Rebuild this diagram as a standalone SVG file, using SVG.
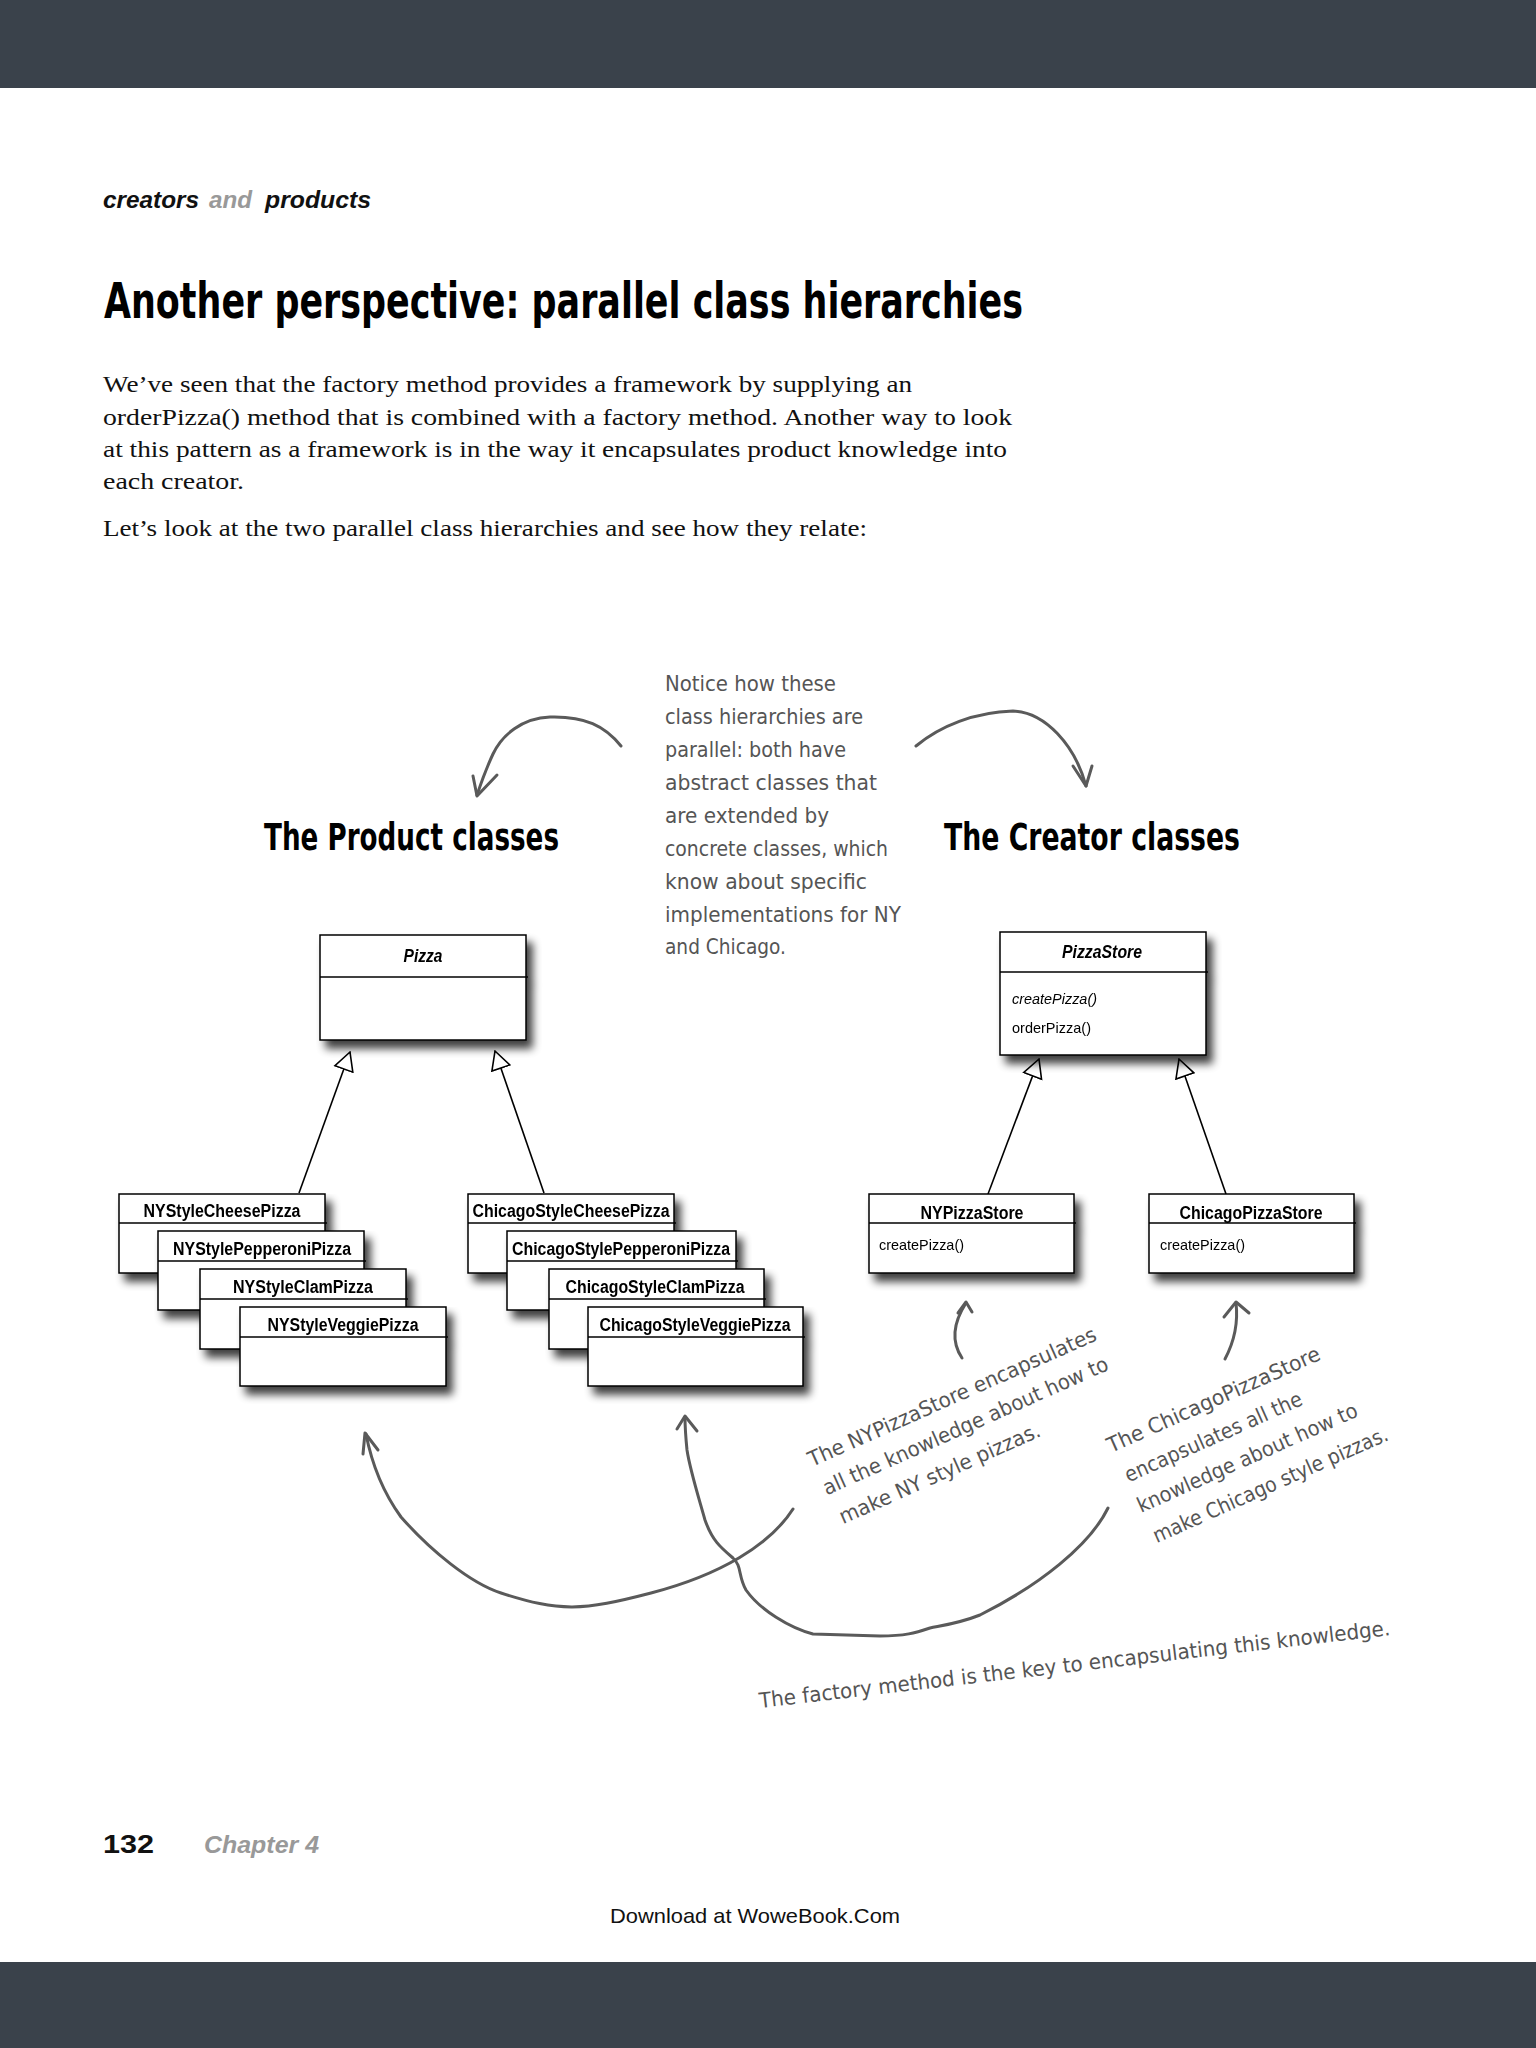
<svg xmlns="http://www.w3.org/2000/svg" width="1536" height="2048" viewBox="0 0 1536 2048">
  <defs>
    <filter id="shadow" x="-10%" y="-10%" width="130%" height="140%">
      <feGaussianBlur in="SourceAlpha" stdDeviation="4"/>
      <feOffset dx="6" dy="8" result="b"/>
      <feComponentTransfer><feFuncA type="linear" slope="0.75"/></feComponentTransfer>
      <feMerge><feMergeNode/><feMergeNode in="SourceGraphic"/></feMerge>
    </filter>
    <marker id="inherit" viewBox="0 0 20 22" refX="19" refY="11" markerWidth="20" markerHeight="22" markerUnits="userSpaceOnUse" orient="auto">
      <path d="M19,11 L1,1.5 L1,20.5 Z" fill="#fff" stroke="#000" stroke-width="1.6"/>
    </marker>
  </defs>
  <style>
    .bar { fill: #3a424b; }
    .box { fill: #fff; stroke: #000; stroke-width: 1.5; }
    .div { stroke: #000; stroke-width: 1.5; }
    .cls { font-family: "Liberation Sans", Arial, sans-serif; font-weight: bold; font-size: 17.5px; text-anchor: middle; fill: #000; }
    .abs { font-style: italic; }
    .op { font-family: "Liberation Sans", Arial, sans-serif; font-size: 15px; fill: #000; }
    .gen { stroke: #000; stroke-width: 1.6; fill: none; marker-end: url(#inherit); }
    .body { font-family: "Liberation Serif", "Times New Roman", serif; font-size: 23px; fill: #111; }
    .head { font-family: "DejaVu Sans", "Liberation Sans", sans-serif; font-weight: bold; fill: #000; }
    .hand { font-family: "DejaVu Sans", "Liberation Sans", sans-serif; font-size: 21px; fill: #555; }
    .sketch { fill: none; stroke: #5a5a5a; stroke-width: 3; stroke-linecap: round; stroke-linejoin: round; }
    .runhead { font-family: "Liberation Sans", Arial, sans-serif; font-size: 23px; font-weight: bold; font-style: italic; }
  </style>

  <rect width="1536" height="2048" fill="#fff"/>
  <rect class="bar" x="0" y="0" width="1536" height="88"/>
  <rect class="bar" x="0" y="1962" width="1536" height="86"/>

  <!-- running head -->
  <text class="runhead" x="103" y="208" fill="#111" textLength="96" lengthAdjust="spacingAndGlyphs">creators</text>
  <text class="runhead" x="209" y="208" fill="#999" textLength="43" lengthAdjust="spacingAndGlyphs">and</text>
  <text class="runhead" x="265" y="208" fill="#111" textLength="106" lengthAdjust="spacingAndGlyphs">products</text>

  <!-- page title and intro -->
  <text class="head" x="104" y="318" font-size="50" textLength="919" lengthAdjust="spacingAndGlyphs">Another perspective: parallel class hierarchies</text>
  <text class="body" x="103" y="392" textLength="809" lengthAdjust="spacingAndGlyphs">We’ve seen that the factory method provides a framework by supplying an</text>
  <text class="body" x="103" y="425" textLength="909" lengthAdjust="spacingAndGlyphs">orderPizza() method that is combined with a factory method.  Another way to look</text>
  <text class="body" x="103" y="457" textLength="904" lengthAdjust="spacingAndGlyphs">at this pattern as a framework is in the way it encapsulates product knowledge into</text>
  <text class="body" x="103" y="489" textLength="141" lengthAdjust="spacingAndGlyphs">each creator.</text>
  <text class="body" x="103" y="536" textLength="764" lengthAdjust="spacingAndGlyphs">Let’s look at the two parallel class hierarchies and see how they relate:</text>

  <!-- section headings -->
  <text class="head" x="264" y="850" font-size="37" textLength="295" lengthAdjust="spacingAndGlyphs">The Product classes</text>
  <text class="head" x="944" y="850" font-size="37" textLength="296" lengthAdjust="spacingAndGlyphs">The Creator classes</text>

  <!-- central note -->
  <g id="note-parallel" class="hand">
    <text x="665" y="691" textLength="171" lengthAdjust="spacingAndGlyphs">Notice how these</text>
    <text x="665" y="724" textLength="198" lengthAdjust="spacingAndGlyphs">class hierarchies are</text>
    <text x="665" y="757" textLength="181" lengthAdjust="spacingAndGlyphs">parallel: both have</text>
    <text x="665" y="790" textLength="212" lengthAdjust="spacingAndGlyphs">abstract classes that</text>
    <text x="665" y="823" textLength="164" lengthAdjust="spacingAndGlyphs">are extended by</text>
    <text x="665" y="856" textLength="223" lengthAdjust="spacingAndGlyphs">concrete classes, which</text>
    <text x="665" y="889" textLength="202" lengthAdjust="spacingAndGlyphs">know about  specific</text>
    <text x="665" y="922" textLength="236" lengthAdjust="spacingAndGlyphs">implementations for NY</text>
    <text x="665" y="954" textLength="121" lengthAdjust="spacingAndGlyphs">and Chicago.</text>
  </g>

  <!-- connectors: UML generalisations and hand-drawn pointers -->
  <g id="connectors">
    <line class="gen" x1="299" y1="1193" x2="350" y2="1052"/>
    <line class="gen" x1="544" y1="1193" x2="495" y2="1051"/>
    <line class="gen" x1="988" y1="1194" x2="1039" y2="1059"/>
    <line class="gen" x1="1226" y1="1194" x2="1179" y2="1059"/>

    <path class="sketch" d="M621,746 C605,726 585,716 550,717 C522,718 502,735 493,754 C486,769 481,783 477,795"/>
    <path class="sketch" d="M473,776 L477,796 L497,775"/>
    <path class="sketch" d="M916,746 C940,726 975,712 1013,711 C1045,712 1075,745 1086,786"/>
    <path class="sketch" d="M1073,766 L1086,786 L1092,766"/>

    <path class="sketch" d="M962,1358 C950,1340 955,1320 966,1303"/>
    <path class="sketch" d="M958,1313 L966,1302 L972,1312"/>
    <path class="sketch" d="M1225,1359 C1235,1340 1238,1320 1236,1303"/>
    <path class="sketch" d="M1224,1317 L1236,1302 L1249,1313"/>

    <path class="sketch" d="M793,1509 C770,1545 720,1575 651,1593 S560,1612 501,1593 C470,1583 430,1550 401,1517 C385,1495 372,1465 366,1434"/>
    <path class="sketch" d="M363,1454 L365,1433 L378,1450"/>
    <path class="sketch" d="M1108,1508 C1090,1545 1040,1585 980,1615 C960,1623 945,1625 930,1628 C915,1633 905,1636 880,1636 L813,1634 C790,1628 760,1610 746,1590 C738,1576 742,1566 733,1558 C720,1547 712,1540 705,1520 C698,1495 690,1470 687,1450 C686,1440 685,1425 685,1417"/>
    <path class="sketch" d="M677,1429 L685,1416 L697,1431"/>
  </g>

  <!-- product hierarchy -->
  <g id="pizza" filter="url(#shadow)">
    <rect class="box" x="320" y="935" width="206" height="105"/>
    <line class="div" x1="320" y1="977" x2="528" y2="977"/>
    <text class="cls abs" x="423" y="962" textLength="39" lengthAdjust="spacingAndGlyphs">Pizza</text>
  </g>

  <g id="ny-cheese" filter="url(#shadow)">
    <rect class="box" x="119" y="1194" width="206" height="79"/>
    <line class="div" x1="119" y1="1223" x2="327" y2="1223"/>
    <text class="cls" x="222" y="1217" textLength="157" lengthAdjust="spacingAndGlyphs">NYStyleCheesePizza</text>
  </g>
  <g id="ny-pepperoni" filter="url(#shadow)">
    <rect class="box" x="158" y="1231" width="206" height="79"/>
    <line class="div" x1="158" y1="1261" x2="366" y2="1261"/>
    <text class="cls" x="262" y="1255" textLength="178" lengthAdjust="spacingAndGlyphs">NYStylePepperoniPizza</text>
  </g>
  <g id="ny-clam" filter="url(#shadow)">
    <rect class="box" x="200" y="1269" width="206" height="80"/>
    <line class="div" x1="200" y1="1299" x2="408" y2="1299"/>
    <text class="cls" x="303" y="1293" textLength="140" lengthAdjust="spacingAndGlyphs">NYStyleClamPizza</text>
  </g>
  <g id="ny-veggie" filter="url(#shadow)">
    <rect class="box" x="240" y="1307" width="206" height="79"/>
    <line class="div" x1="240" y1="1337" x2="448" y2="1337"/>
    <text class="cls" x="343" y="1331" textLength="151" lengthAdjust="spacingAndGlyphs">NYStyleVeggiePizza</text>
  </g>

  <g id="chicago-cheese" filter="url(#shadow)">
    <rect class="box" x="468" y="1194" width="206" height="79"/>
    <line class="div" x1="468" y1="1223" x2="676" y2="1223"/>
    <text class="cls" x="571" y="1217" textLength="197" lengthAdjust="spacingAndGlyphs">ChicagoStyleCheesePizza</text>
  </g>
  <g id="chicago-pepperoni" filter="url(#shadow)">
    <rect class="box" x="507" y="1231" width="229" height="79"/>
    <line class="div" x1="507" y1="1261" x2="738" y2="1261"/>
    <text class="cls" x="621" y="1255" textLength="218" lengthAdjust="spacingAndGlyphs">ChicagoStylePepperoniPizza</text>
  </g>
  <g id="chicago-clam" filter="url(#shadow)">
    <rect class="box" x="549" y="1269" width="215" height="80"/>
    <line class="div" x1="549" y1="1299" x2="766" y2="1299"/>
    <text class="cls" x="655" y="1293" textLength="179" lengthAdjust="spacingAndGlyphs">ChicagoStyleClamPizza</text>
  </g>
  <g id="chicago-veggie" filter="url(#shadow)">
    <rect class="box" x="588" y="1307" width="215" height="79"/>
    <line class="div" x1="588" y1="1337" x2="805" y2="1337"/>
    <text class="cls" x="695" y="1331" textLength="191" lengthAdjust="spacingAndGlyphs">ChicagoStyleVeggiePizza</text>
  </g>

  <!-- creator hierarchy -->
  <g id="pizza-store" filter="url(#shadow)">
    <rect class="box" x="1000" y="932" width="206" height="123"/>
    <line class="div" x1="1000" y1="972" x2="1208" y2="972"/>
    <text class="cls abs" x="1102" y="958" textLength="80" lengthAdjust="spacingAndGlyphs">PizzaStore</text>
    <text class="op" x="1012" y="1004" font-style="italic" textLength="85" lengthAdjust="spacingAndGlyphs">createPizza()</text>
    <text class="op" x="1012" y="1033" textLength="79" lengthAdjust="spacingAndGlyphs">orderPizza()</text>
  </g>
  <g id="ny-pizza-store" filter="url(#shadow)">
    <rect class="box" x="869" y="1194" width="205" height="79"/>
    <line class="div" x1="869" y1="1223" x2="1076" y2="1223"/>
    <text class="cls" x="972" y="1219" textLength="103" lengthAdjust="spacingAndGlyphs">NYPizzaStore</text>
    <text class="op" x="879" y="1250" textLength="85" lengthAdjust="spacingAndGlyphs">createPizza()</text>
  </g>
  <g id="chicago-pizza-store" filter="url(#shadow)">
    <rect class="box" x="1149" y="1194" width="205" height="79"/>
    <line class="div" x1="1149" y1="1223" x2="1356" y2="1223"/>
    <text class="cls" x="1251" y="1219" textLength="143" lengthAdjust="spacingAndGlyphs">ChicagoPizzaStore</text>
    <text class="op" x="1160" y="1250" textLength="85" lengthAdjust="spacingAndGlyphs">createPizza()</text>
  </g>

  <!-- slanted notes -->
  <g id="note-ny" class="hand" transform="translate(812,1467) rotate(-24)">
    <text x="0" y="0" textLength="313" lengthAdjust="spacingAndGlyphs">The NYPizzaStore encapsulates</text>
    <text x="2" y="32" textLength="310" lengthAdjust="spacingAndGlyphs">all the knowledge about how to</text>
    <text x="5" y="65" textLength="218" lengthAdjust="spacingAndGlyphs">make NY style pizzas.</text>
  </g>
  <g id="note-chicago" class="hand" transform="translate(1111,1453) rotate(-24)">
    <text x="0" y="0" textLength="231" lengthAdjust="spacingAndGlyphs">The ChicagoPizzaStore</text>
    <text x="4" y="34" textLength="192" lengthAdjust="spacingAndGlyphs">encapsulates all the</text>
    <text x="3" y="67" textLength="239" lengthAdjust="spacingAndGlyphs">knowledge about how to</text>
    <text x="5" y="101" textLength="255" lengthAdjust="spacingAndGlyphs">make Chicago style pizzas.</text>
  </g>
  <g id="note-factory" class="hand" transform="translate(760,1708) rotate(-6.6)">
    <text x="0" y="0" textLength="635" lengthAdjust="spacingAndGlyphs">The factory method is the key to encapsulating this knowledge.</text>
  </g>

  <!-- footer -->
  <text x="103" y="1853" font-family="Liberation Sans, Arial, sans-serif" font-size="26" font-weight="bold" fill="#111" textLength="51" lengthAdjust="spacingAndGlyphs">132</text>
  <text x="204" y="1853" font-family="Liberation Sans, Arial, sans-serif" font-size="24" font-weight="bold" font-style="italic" fill="#999" textLength="115" lengthAdjust="spacingAndGlyphs">Chapter 4</text>
  <text x="610" y="1923" font-family="Liberation Sans, Arial, sans-serif" font-size="21" fill="#111" textLength="290" lengthAdjust="spacingAndGlyphs">Download at WoweBook.Com</text>
</svg>
